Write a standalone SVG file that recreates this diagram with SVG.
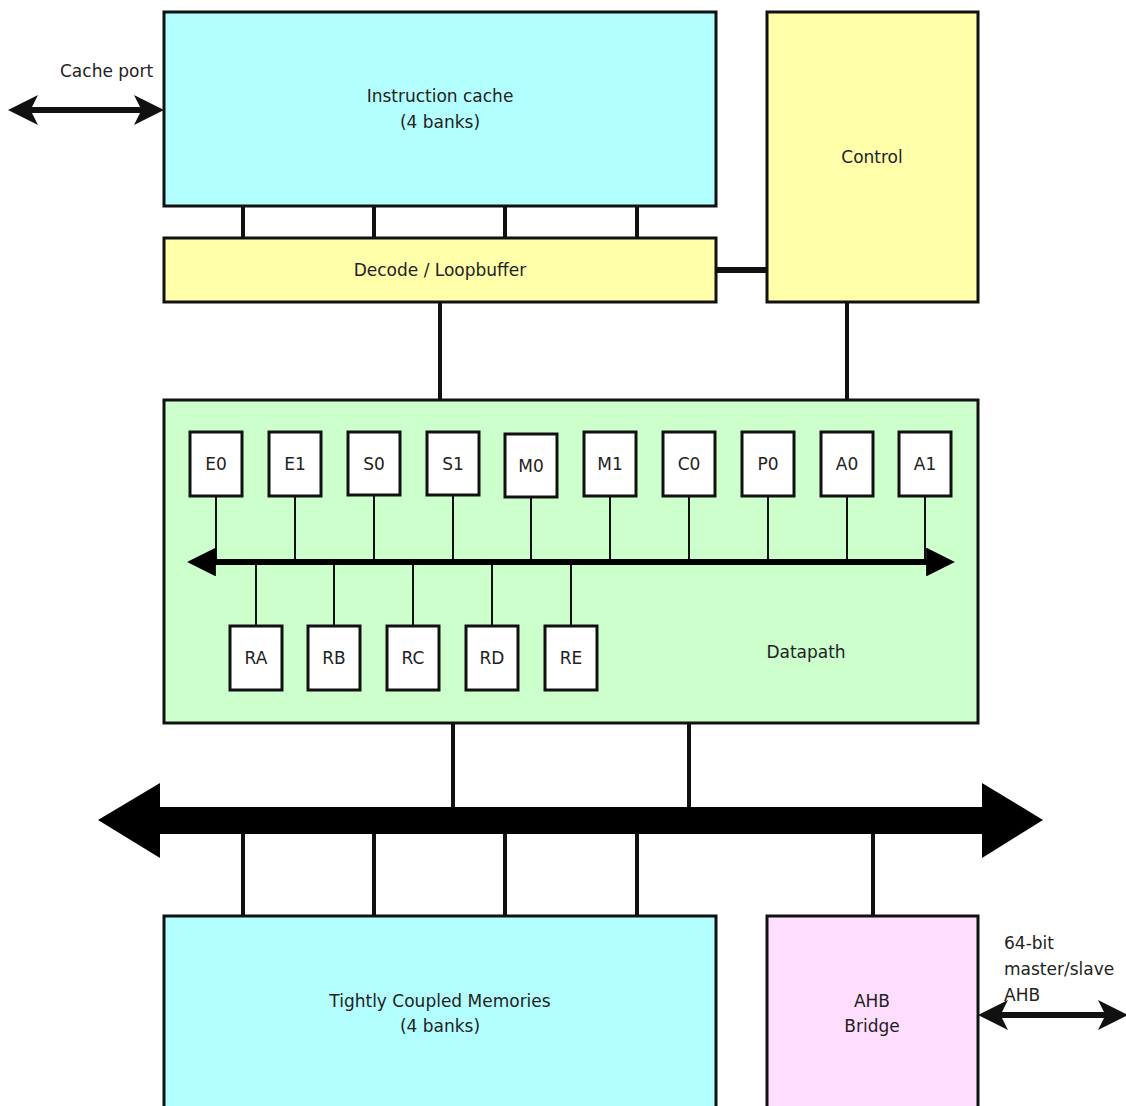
<svg xmlns="http://www.w3.org/2000/svg" width="1126" height="1106" viewBox="0 0 1126 1106">
<style>
.box{stroke:#111;stroke-width:3}
.cyan{fill:#b3ffff}
.yellow{fill:#ffffaa}
.green{fill:#ccffcc}
.pink{fill:#ffddff}
.reg{fill:#ffffff;stroke:#111;stroke-width:3}
.t{font-family:"DejaVu Sans",sans-serif;font-size:17px;fill:#222;text-anchor:middle}
.tl{font-family:"DejaVu Sans",sans-serif;font-size:17px;fill:#222}
.w4{stroke:#111;stroke-width:4;fill:none}
.w2{stroke:#111;stroke-width:2;fill:none}
</style>
<defs>
<marker id="ah" viewBox="0 0 10 10" refX="8" refY="5" markerWidth="5" markerHeight="5" orient="auto-start-reverse" markerUnits="strokeWidth">
<path d="M0,0 L10,5 L0,10 L2.5,5 Z" fill="#111"/>
</marker>
<marker id="ah2" viewBox="0 0 10 10" refX="1" refY="5" markerWidth="4.8" markerHeight="4.8" orient="auto-start-reverse" markerUnits="strokeWidth">
<path d="M0,0 L10,5 L0,10 Z" fill="#000"/>
</marker>
</defs>
<rect width="1126" height="1106" fill="#fff"/>
<g id="connectors">
<line class="w4" x1="243" y1="206" x2="243" y2="238"/>
<line class="w4" x1="374" y1="206" x2="374" y2="238"/>
<line class="w4" x1="505" y1="206" x2="505" y2="238"/>
<line class="w4" x1="637" y1="206" x2="637" y2="238"/>
<line stroke="#111" stroke-width="6" x1="716" y1="270" x2="767" y2="270"/>
<line class="w4" x1="440" y1="302" x2="440" y2="400"/>
<line class="w4" x1="847" y1="302" x2="847" y2="400"/>
<line class="w4" x1="453" y1="723" x2="453" y2="810"/>
<line class="w4" x1="689" y1="723" x2="689" y2="810"/>
<line class="w4" x1="243" y1="830" x2="243" y2="916"/>
<line class="w4" x1="374" y1="830" x2="374" y2="916"/>
<line class="w4" x1="505" y1="830" x2="505" y2="916"/>
<line class="w4" x1="637" y1="830" x2="637" y2="916"/>
<line class="w4" x1="873" y1="830" x2="873" y2="916"/>
<path d="M98,820 L160,783 L160,807 L982,807 L982,783 L1043,820 L982,858 L982,834 L160,834 L160,858 Z" fill="#000"/>
<line stroke="#111" stroke-width="6" x1="14" y1="110" x2="158" y2="110" marker-start="url(#ah)" marker-end="url(#ah)"/>
<line stroke="#111" stroke-width="6" x1="984" y1="1015" x2="1122" y2="1015" marker-start="url(#ah)" marker-end="url(#ah)"/>
</g>
<g id="icache"><rect class="box cyan" x="164" y="12" width="552" height="194"/><text class="t" x="440" y="102">Instruction cache</text><text class="t" x="440" y="128">(4 banks)</text></g>
<g id="control"><rect class="box yellow" x="767" y="12" width="211" height="290"/><text class="t" x="872" y="163">Control</text></g>
<g id="decode"><rect class="box yellow" x="164" y="238" width="552" height="64"/><text class="t" x="440" y="276">Decode / Loopbuffer</text></g>
<g id="datapath"><rect class="box green" x="164" y="400" width="814" height="323"/><text class="t" x="806" y="658">Datapath</text></g>
<g id="bus-inner">
<line class="w2" x1="216" y1="496" x2="216" y2="562"/>
<line class="w2" x1="295" y1="496" x2="295" y2="562"/>
<line class="w2" x1="374" y1="495" x2="374" y2="562"/>
<line class="w2" x1="453" y1="495" x2="453" y2="562"/>
<line class="w2" x1="531" y1="497" x2="531" y2="562"/>
<line class="w2" x1="610" y1="496" x2="610" y2="562"/>
<line class="w2" x1="689" y1="496" x2="689" y2="562"/>
<line class="w2" x1="768" y1="496" x2="768" y2="562"/>
<line class="w2" x1="847" y1="496" x2="847" y2="562"/>
<line class="w2" x1="925" y1="496" x2="925" y2="562"/>
<line class="w2" x1="256" y1="562" x2="256" y2="626"/>
<line class="w2" x1="334" y1="562" x2="334" y2="626"/>
<line class="w2" x1="413" y1="562" x2="413" y2="626"/>
<line class="w2" x1="492" y1="562" x2="492" y2="626"/>
<line class="w2" x1="571" y1="562" x2="571" y2="626"/>
<line stroke="#000" stroke-width="6" x1="213" y1="562" x2="929" y2="562" marker-start="url(#ah2)" marker-end="url(#ah2)"/>
</g>
<g id="E0"><rect class="reg" x="190" y="432" width="52" height="64"/><text class="t" x="216" y="470">E0</text></g>
<g id="E1"><rect class="reg" x="269" y="432" width="52" height="64"/><text class="t" x="295" y="470">E1</text></g>
<g id="S0"><rect class="reg" x="348" y="432" width="52" height="63"/><text class="t" x="374" y="470">S0</text></g>
<g id="S1"><rect class="reg" x="427" y="432" width="52" height="63"/><text class="t" x="453" y="470">S1</text></g>
<g id="M0"><rect class="reg" x="505" y="434" width="52" height="63"/><text class="t" x="531" y="472">M0</text></g>
<g id="M1"><rect class="reg" x="584" y="432" width="52" height="64"/><text class="t" x="610" y="470">M1</text></g>
<g id="C0"><rect class="reg" x="663" y="432" width="52" height="64"/><text class="t" x="689" y="470">C0</text></g>
<g id="P0"><rect class="reg" x="742" y="432" width="52" height="64"/><text class="t" x="768" y="470">P0</text></g>
<g id="A0"><rect class="reg" x="821" y="432" width="52" height="64"/><text class="t" x="847" y="470">A0</text></g>
<g id="A1"><rect class="reg" x="899" y="432" width="52" height="64"/><text class="t" x="925" y="470">A1</text></g>
<g id="RA"><rect class="reg" x="230" y="626" width="52" height="64"/><text class="t" x="256" y="664">RA</text></g>
<g id="RB"><rect class="reg" x="308" y="626" width="52" height="64"/><text class="t" x="334" y="664">RB</text></g>
<g id="RC"><rect class="reg" x="387" y="626" width="52" height="64"/><text class="t" x="413" y="664">RC</text></g>
<g id="RD"><rect class="reg" x="466" y="626" width="52" height="64"/><text class="t" x="492" y="664">RD</text></g>
<g id="RE"><rect class="reg" x="545" y="626" width="52" height="64"/><text class="t" x="571" y="664">RE</text></g>
<g id="tcm"><rect class="box cyan" x="164" y="916" width="552" height="200"/><text class="t" x="440" y="1007">Tightly Coupled Memories</text><text class="t" x="440" y="1032">(4 banks)</text></g>
<g id="ahb"><rect class="box pink" x="767" y="916" width="211" height="200"/><text class="t" x="872" y="1007">AHB</text><text class="t" x="872" y="1032">Bridge</text></g>
<g id="labels">
<text class="tl" x="60" y="77">Cache port</text>
<text class="tl" x="1004" y="949">64-bit</text>
<text class="tl" x="1004" y="975">master/slave</text>
<text class="tl" x="1004" y="1001">AHB</text>
</g>
</svg>
